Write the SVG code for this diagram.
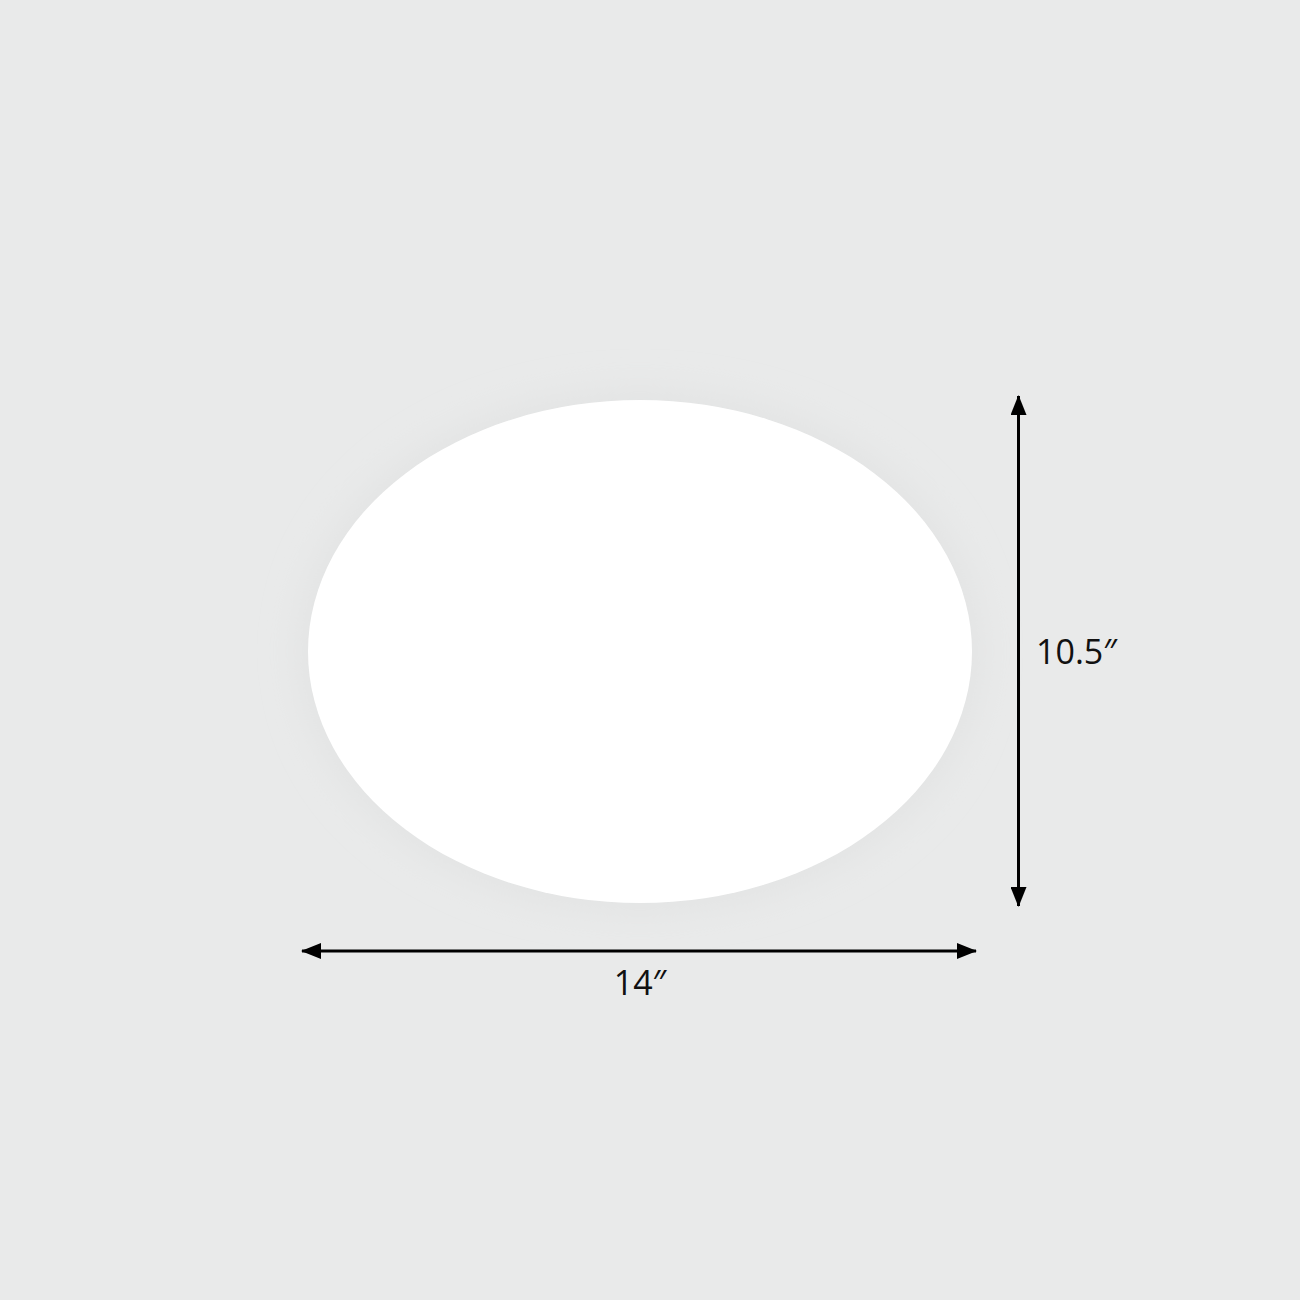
<svg xmlns="http://www.w3.org/2000/svg" width="1300" height="1300" viewBox="0 0 1300 1300">
  <defs>
    <style>
      .dim { stroke: #000; stroke-width: 3; fill: none; }
      .label { font-family: "Open Sans", "Liberation Sans", sans-serif; font-size: 34px; fill: #111; }
    </style>
    <marker id="arrow" viewBox="0 0 20 16" refX="19" refY="8" markerWidth="20" markerHeight="16" markerUnits="userSpaceOnUse" orient="auto-start-reverse">
      <path d="M0,0 L20,8 L0,16 Z" fill="#000"/>
    </marker>
    <filter id="glow" x="-20%" y="-20%" width="140%" height="140%">
      <feGaussianBlur stdDeviation="18"/>
    </filter>
  </defs>
  <rect width="1300" height="1300" fill="#e9eaea"/>
  <g id="lamp">
    <ellipse cx="640" cy="651" rx="340" ry="259" fill="#e2e3e3" filter="url(#glow)"/>
    <ellipse cx="640" cy="651.5" rx="332" ry="251.5" fill="#ffffff"/>
  </g>
  <g id="connectors">
    <line class="dim" x1="1018.5" y1="396" x2="1018.5" y2="906" marker-start="url(#arrow)" marker-end="url(#arrow)"/>
    <line class="dim" x1="302" y1="951" x2="976" y2="951" marker-start="url(#arrow)" marker-end="url(#arrow)"/>
  </g>
  <g id="label-height">
    <text class="label" x="1036" y="664">10.5″</text>
  </g>
  <g id="label-width">
    <text class="label" x="640" y="995" text-anchor="middle">14″</text>
  </g>
</svg>
